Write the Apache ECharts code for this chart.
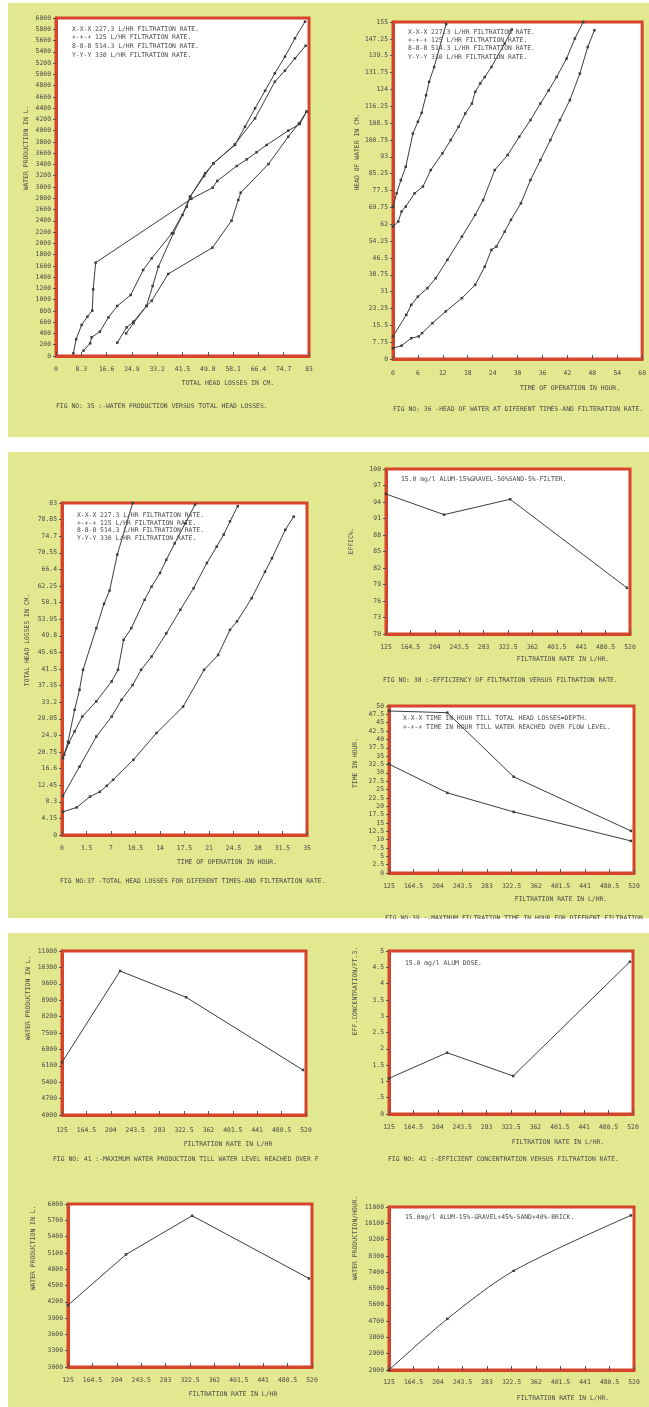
<!DOCTYPE html>
<html><head><meta charset="utf-8">
<script src="https://cdn.jsdelivr.net/npm/echarts@6/dist/echarts.min.js"></script>
<style>html,body{margin:0;padding:0;background:#fff;}#c{width:649px;height:1407px;}</style>
</head><body><div id="c"></div><script>
// ---------- tick labels ----------
const p1XTicks = [0,8.3,16.6,24.9,33.2,41.5,49.8,58.1,66.4,74.7,83];
const p1YTicks = [0,200,400,600,800,1000,1200,1400,1600,1800,2000,2200,2400,2600,2800,3000,3200,3400,3600,3800,4000,4200,4400,4600,4800,5000,5200,5400,5600,5800,6000];
const p2XTicks = [0,6,12,18,24,30,36,42,48,54,60];
const p2YTicks = [0,7.75,15.5,23.25,31,38.75,46.5,54.25,62,69.75,77.5,85.25,93,100.75,108.5,116.25,124,131.75,139.5,147.25,155];
const p3XTicks = [0,3.5,7,10.5,14,17.5,21,24.5,28,31.5,35];
const p3YTicks = [0,4.15,8.3,12.45,16.6,20.75,24.9,29.05,33.2,37.35,41.5,45.65,49.8,53.95,58.1,62.25,66.4,70.55,74.7,78.85,83];
const rateTicks = [125,164.5,204,243.5,283,322.5,362,401.5,441,480.5,520];
const p4YTicks = [70,73,76,79,82,85,88,91,94,97,100];
const p5YTicks = [0,2.5,5,7.5,10,12.5,15,17.5,20,22.5,25,27.5,30,32.5,35,37.5,40,42.5,45,47.5,50];
const p6YTicks = [4000,4700,5400,6100,6800,7500,8200,8900,9600,10300,11000];
const p7YTicks = [0,0.5,1,1.5,2,2.5,3,3.5,4,4.5,5];
const p8YTicks = [3000,3300,3600,3900,4200,4500,4800,5100,5400,5700,6000];
const p9YTicks = [2000,2900,3800,4700,5600,6500,7400,8300,9200,10100,11000];

// ---------- series values ----------
// Fig 35: water production (L) vs total head loss (cm)
const p1SeriesA = [[5.7,47],[6.6,296],[8.4,550],[10.3,698],[11.9,805],[12.2,1183],[13.0,1657],[44.4,2790],[51.4,2988],[52.9,3107],[59.3,3373],[62.6,3491],[65.8,3616],[69.1,3746],[76.2,4000],[80.0,4118],[82.2,4337]];
const p1SeriesB = [[9.0,95],[11.2,225],[11.7,331],[14.4,432],[17.2,686],[20.1,888],[24.5,1083],[28.6,1527],[31.4,1734],[38.0,2178],[42.9,2650],[44.0,2828],[48.6,3195],[51.6,3420],[58.7,3746],[62.0,4071],[65.3,4397],[68.6,4710],[71.8,5018],[75.1,5313],[78.4,5640],[81.7,5935]];
const p1SeriesC = [[23.0,402],[25.4,583],[29.7,888],[31.7,1243],[33.6,1586],[38.5,2178],[41.5,2503],[44.0,2828],[48.9,3243],[51.7,3420],[58.7,3757],[65.3,4219],[71.8,4870],[75.1,5065],[78.4,5284],[81.9,5508]];
const p1SeriesD = [[20.1,237],[23.2,509],[25.4,609],[29.7,888],[31.4,982],[36.8,1456],[51.3,1923],[57.6,2402],[59.8,2769],[60.6,2899],[69.7,3408],[76.2,3893],[79.7,4130],[82.2,4337]];
// Fig 36: head of water (cm) vs time (h)
const p2Series1 = [[0,70],[0.87,76.2],[1.9,82.3],[3.07,88.4],[4.8,103.7],[6.0,109.1],[6.9,113.2],[7.96,121.3],[8.7,127.5],[9.9,134.3],[12.8,154]];
const p2Series2 = [[0,60.9],[1.26,63.2],[2.05,67.8],[3.07,70.1],[5.2,76.2],[7.2,79.3],[9.1,86.9],[11.9,94.6],[13.9,100.7],[15.8,106.8],[17.4,112.9],[19.0,117.5],[19.8,122.9],[21.0,126.7],[22.1,129.7],[23.7,134.3],[26.9,145.1],[28.6,151.5]];
const p2Series3 = [[0,10.4],[3.2,20.3],[4.4,24.9],[6.0,28.7],[8.3,32.6],[10.3,37.2],[13.1,45.6],[16.6,56.3],[19.8,66.3],[21.7,73.1],[24.5,86.9],[27.6,93.8],[30.4,102.2],[33.1,109.9],[35.5,117.5],[37.5,123.6],[39.4,129.7],[41.8,138.2],[43.8,147.4],[45.8,155]];
const p2Series4 = [[0,5.0],[2.05,6.1],[4.4,9.6],[6.2,10.4],[7.0,11.9],[9.5,16.5],[12.7,21.9],[16.6,28.0],[19.8,34.1],[22.1,42.5],[23.7,50.2],[24.9,51.7],[26.9,58.6],[28.4,64.0],[30.8,71.6],[33.1,82.3],[35.5,91.5],[37.9,100.7],[40.2,109.9],[42.6,119.1],[45.0,131.3],[46.9,143.5],[48.5,151.2]];
// Fig 37: total head losses (cm) vs time (h)
const p3Series1 = [[0.14,19.2],[0.86,23.3],[1.8,31.3],[2.5,36.3],[3.0,41.3],[4.9,51.7],[6.0,57.8],[6.8,61.1],[7.9,70.1],[10.1,83]];
const p3Series2 = [[0.3,20],[1.0,23.1],[1.8,25.9],[2.9,29.6],[4.9,33.4],[7.1,38.4],[8.0,41.3],[8.8,48.8],[9.9,51.7],[11.8,58.8],[12.8,62.1],[14.0,65.5],[14.9,68.8],[16.1,72.9],[17.6,77.9],[19.0,82.6]];
const p3Series3 = [[0.14,9.8],[2.5,17.1],[4.9,24.6],[7.1,29.6],[8.5,33.8],[10.1,37.5],[11.3,41.3],[12.8,44.6],[14.9,50.4],[16.9,56.3],[18.8,61.7],[20.7,68.0],[22.1,72.1],[23.1,75.1],[24.0,78.4],[25.1,82.2]];
const p3Series4 = [[0.14,5.8],[2.1,6.9],[4.0,9.6],[5.4,10.8],[6.4,12.3],[7.3,13.8],[10.2,18.8],[13.5,25.5],[17.3,32.1],[20.3,41.3],[22.3,45.0],[24.0,51.3],[25.0,53.4],[27.1,59.2],[29.0,65.8],[30.0,69.2],[31.9,76.3],[33.1,79.6]];
// Figs 38-43: values at the four filtration rates
const filtrationRates = [125, 219, 326, 515];
const efficiency = [95.45, 91.7, 94.5, 78.4];
const timeTillHeadLoss = [48.5, 48.0, 28.8, 12.6];
const timeTillOverflow = [32.6, 24.0, 18.3, 9.6];
const maxWaterProduction = [6249, 10146, 9024, 5921];
const effConcentration = [1.095, 1.88, 1.166, 4.67];
const waterProduction2 = [4138, 5072, 5784, 4630];
const waterProductionHour = [2000, 4821, 7476, 10536];

const legend4 = ['X-X-X 227.3 L/HR FILTRATION RATE.','+-+-+ 125 L/HR FILTRATION RATE.','8-8-8 514.3 L/HR FILTRATION RATE.','Y-Y-Y 330 L/HR FILTRATION RATE.'];

// ---------- layout ----------
const RED = '#d8432b', INK = '#3d3d3d', TXT = '#4a4a4a', FONT = 'DejaVu Sans Mono', FS = 6.4;
const grids = [
  {left:56, top:18, width:253, height:338},
  {left:393, top:22, width:254, height:337},
  {left:62, top:503, width:245, height:332},
  {left:386, top:469, width:244, height:165},
  {left:389, top:706, width:245, height:167},
  {left:62, top:951, width:244, height:164},
  {left:389, top:951, width:244, height:163},
  {left:68, top:1204, width:244, height:163},
  {left:389, top:1207, width:245, height:163}
];
const axisDefs = [
  [p1XTicks, p1YTicks, 10],
  [p2XTicks, p2YTicks, 11],
  [p3XTicks, p3YTicks, 10],
  [rateTicks, p4YTicks, 10],
  [rateTicks, p5YTicks, 10],
  [rateTicks, p6YTicks, 12],
  [rateTicks, p7YTicks, 10],
  [rateTicks, p8YTicks, 10],
  [rateTicks, p9YTicks, 9]
];
const fmt = v => (v === 0.5 ? '.5' : String(v));
const xAxis = [], yAxis = [];
axisDefs.forEach(([xt, yt, xm], i) => {
  xAxis.push({type:'value', gridIndex:i, min:xt[0], max:xt[xt.length-1],
    axisLine:{show:true, lineStyle:{color:RED, width:3}},
    axisTick:{show:true, inside:true, length:4, customValues:xt, lineStyle:{color:'#555', width:1}},
    axisLabel:{show:true, customValues:xt, margin:xm, fontSize:FS, fontFamily:FONT, color:TXT, formatter:fmt, hideOverlap:false, showMinLabel:true, showMaxLabel:true},
    splitLine:{show:false}});
  yAxis.push({type:'value', gridIndex:i, min:yt[0], max:yt[yt.length-1],
    axisLine:{show:true, lineStyle:{color:RED, width:3}},
    axisTick:{show:true, inside:false, length:3, customValues:yt, lineStyle:{color:'#555', width:1}},
    axisLabel:{show:true, customValues:yt, margin:5, fontSize:FS, fontFamily:FONT, color:TXT, formatter:fmt, hideOverlap:false, showMinLabel:true, showMaxLabel:true},
    splitLine:{show:false}});
});
const gridOpts = grids.map(g => Object.assign({show:true, backgroundColor:'#ffffff', borderColor:RED, borderWidth:3, containLabel:false}, g));

function line(i, data, extra) {
  return Object.assign({type:'line', xAxisIndex:i, yAxisIndex:i, data:data, symbol:'rect', symbolSize:2.5,
    showSymbol:true, lineStyle:{color:INK, width:1}, itemStyle:{color:INK}, animation:false, silent:true}, extra || {});
}
const zip = (xs, ys) => xs.map((x, k) => [x, ys[k]]);
const series = [
  line(0,p1SeriesA), line(0,p1SeriesB), line(0,p1SeriesC), line(0,p1SeriesD),
  line(1,p2Series1), line(1,p2Series2), line(1,p2Series3), line(1,p2Series4),
  line(2,p3Series1), line(2,p3Series2), line(2,p3Series3), line(2,p3Series4),
  line(3, zip(filtrationRates, efficiency)),
  line(4, zip(filtrationRates, timeTillHeadLoss)),
  line(4, zip(filtrationRates, timeTillOverflow)),
  line(5, zip(filtrationRates, maxWaterProduction)),
  line(6, zip(filtrationRates, effConcentration)),
  line(7, zip(filtrationRates, waterProduction2)),
  line(8, zip(filtrationRates, waterProductionHour), {smooth:0.3})
];

// ---------- texts ----------
const g = [];
const YEL = '#e1e88f';
[[8,3,641,434],[8,452,641,466],[8,933,641,474]].forEach(r => g.push({type:'rect', z:-10, silent:true, shape:{x:r[0],y:r[1],width:r[2],height:r[3]}, style:{fill:YEL}}));
function txt(x, y, s, align, opt) {
  g.push(Object.assign({type:'text', z:50, silent:true, x:x, y:y, style:Object.assign({text:s, fill:TXT, font:FS+'px "'+FONT+'"', align:align||'left', verticalAlign:'middle'}, opt||{})}));
}
function vtxt(x, y, s) {
  g.push({type:'text', z:50, silent:true, x:x, y:y, rotation:Math.PI/2, style:{text:s, fill:TXT, font:FS+'px "'+FONT+'"', align:'center', verticalAlign:'middle'}});
}
// Fig 35
legend4.forEach((s,k) => txt(72, 29 + k*8.7, s));
vtxt(26, 148, 'WATER PRODUCTION IN L.');
txt(228, 383, 'TOTAL HEAD LOSSES IN CM.', 'center');
txt(56, 406, 'FIG NO: 35 :-WATER PRODUCTION VERSUS TOTAL HEAD LOSSES.');
// Fig 36
legend4.forEach((s,k) => txt(408, 32 + k*8.3, s));
vtxt(357, 152, 'HEAD OF WATER IN CM.');
txt(570, 388, 'TIME OF OPERATION IN HOUR.', 'center');
txt(393, 409, 'FIG NO: 36 -HEAD OF WATER AT DIFERENT TIMES-AND FILTERATION RATE.');
// Fig 37
legend4.forEach((s,k) => txt(77, 515 + k*7.9, s));
vtxt(27, 640, 'TOTAL HEAD LOSSES IN CM.');
txt(227, 862, 'TIME OF OPERATION IN HOUR.', 'center');
txt(60, 881, 'FIG NO:37 -TOTAL HEAD LOSSES FOR DIFERENT TIMES-AND FILTERATION RATE.');
// Fig 38
txt(401, 479, '15.0 mg/l ALUM-15%GRAVEL-50%SAND-5%-FILTER.');
vtxt(351, 541, 'EFFIC%.');
txt(563, 659, 'FILTRATION RATE IN L/HR.', 'center');
txt(383, 680, 'FIG NO: 38 :-EFFICIENCY OF FILTRATION VERSUS FILTRATION RATE.');
// Fig 39
txt(403, 718, 'X-X-X TIME IN HOUR TILL TOTAL HEAD LOSSES=DEPTH.');
txt(403, 727, '+-+-+ TIME IN HOUR TILL WATER REACHED OVER FLOW LEVEL.');
vtxt(355, 763, 'TIME IN HOUR.');
txt(561, 899, 'FILTRATION RATE IN L/HR.', 'center');
txt(385, 918, 'FIG NO:39 :-MAXIMUM FILTRATION TIME IN HOUR FOR DIFERENT FILTRATION');
// Fig 40
vtxt(28, 998, 'WATER PRODUCTION IN L.');
txt(228, 1144, 'FILTRATION RATE IN L/HR', 'center');
txt(53, 1159, 'FIG NO: 41 :-MAXIMUM WATER PRODUCTION TILL WATER LEVEL REACHED OVER F');
// Fig 42
txt(405, 963, '15.0 mg/l ALUM DOSE.');
vtxt(355, 991, 'EFF.CONCENTRATION/FT.3.');
txt(558, 1142, 'FILTRATION RATE IN L/HR.', 'center');
txt(388, 1159, 'FIG NO: 42 :-EFFICIENT CONCENTRATION VERSUS FILTRATION RATE.');
// Fig 41 (lower left)
vtxt(33, 1248, 'WATER PRODUCTION IN L.');
txt(233, 1394, 'FILTRATION RATE IN L/HR', 'center');
// Fig 43
txt(405, 1217, '15.0mg/l ALUM-15%-GRAVEL+45%-SAND+40%-BRICK.');
vtxt(355, 1238, 'WATER PRODUCTION/HOUR.');
txt(563, 1398, 'FILTRATION RATE IN L/HR.', 'center');
// white gaps between the scanned pages
g.push({type:'rect', z:60, silent:true, shape:{x:0,y:919,width:649,height:14}, style:{fill:'#ffffff'}});

const chart = echarts.init(document.getElementById('c'), null, {renderer:'canvas'});
chart.setOption({animation:false, backgroundColor:'#ffffff', grid:gridOpts, xAxis:xAxis, yAxis:yAxis, series:series, graphic:g});
</script></body></html>
